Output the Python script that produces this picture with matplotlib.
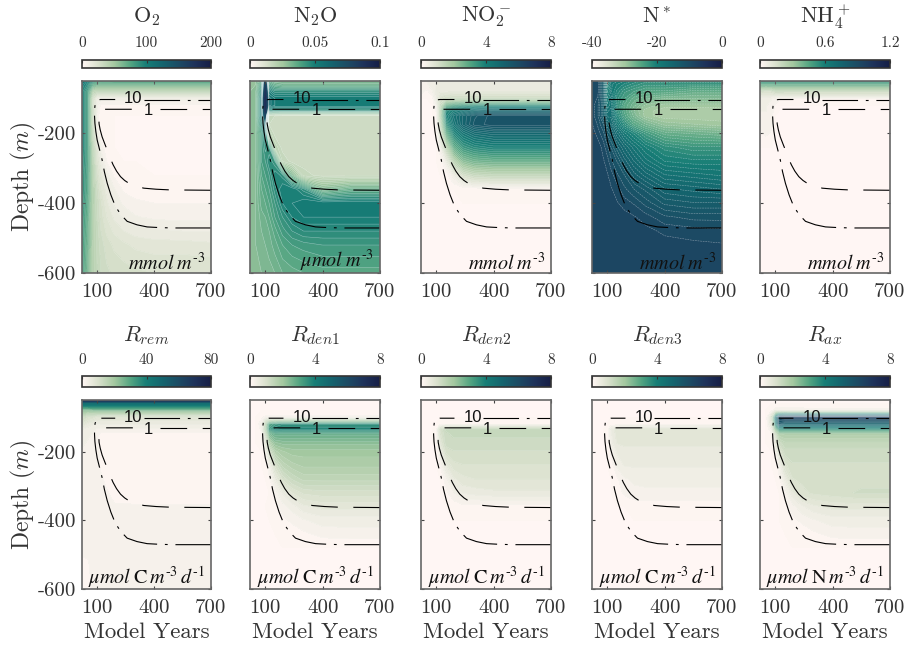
import numpy as np
import matplotlib
matplotlib.use('Agg')
import matplotlib.pyplot as plt
from matplotlib.colors import LinearSegmentedColormap, Normalize
from matplotlib.cm import ScalarMappable

plt.rcParams['font.family'] = ['cmr10', 'DejaVu Serif']
plt.rcParams['mathtext.fontset'] = 'cm'
plt.rcParams['axes.unicode_minus'] = False
plt.rcParams['axes.formatter.use_mathtext'] = True

# model years (columns) and depths (rows) of the tables below
years = [20, 50, 80, 100, 120, 150, 190, 240, 300, 400, 550, 700]
depths = [-50, -60, -80, -100, -120, -135, -150, -175, -200, -240, -280, -320, -360, -400, -440, -480, -520, -600]

o2 = [
    [105, 100, 85, 80, 80, 78, 75, 75, 75, 75, 75, 75],
    [100, 90, 68, 65, 65, 65, 65, 65, 65, 65, 65, 65],
    [95, 78, 38, 35, 35, 35, 35, 35, 35, 35, 35, 35],
    [95, 78, 22, 10, 10, 10, 10, 10, 10, 10, 10, 10],
    [95, 78, 22, 8, 3, 2.5, 2.5, 2.5, 2.5, 2.5, 2.5, 2.5],
    [95, 78, 25, 8, 1.5, .9, .8, .8, .8, .8, .8, .8],
    [95, 78, 25, 6, 1, .3, 0, 0, 0, 0, 0, 0],
    [95, 78, 26, 7, .7, .1, 0, 0, 0, 0, 0, 0],
    [95, 78, 30, 11, 1.2, .2, 0, 0, 0, 0, 0, 0],
    [95, 78, 35, 18, 7, .6, 0, 0, 0, 0, 0, 0],
    [92, 78, 38, 22, 12, 4, .7, 0, 0, 0, 0, 0],
    [90, 76, 40, 26, 17, 10, 3, .6, .2, 0, 0, 0],
    [90, 75, 42, 30, 21, 14, 8.5, 3, 1.7, .9, 1, 1],
    [88, 72, 42, 32, 25, 17, 11, 7, 5, 4, 4, 4],
    [85, 70, 42, 33, 26, 20, 15, 11, 8.5, 7, 6.5, 6.5],
    [84, 68, 42, 34, 28, 23, 19, 16, 14, 13, 12, 12],
    [82, 66, 42, 35, 30, 26, 23, 21, 19, 18, 18, 17],
    [80, 62, 42, 36, 32, 29, 27, 26, 25, 24, 24, 24],
]
n2o = [
    [.028, .028, .035, .075, .035, .03, .03, .03, .03, .03, .03, .03],
    [.028, .028, .04, .08, .04, .035, .033, .033, .033, .033, .033, .033],
    [.028, .03, .045, .085, .05, .045, .045, .045, .045, .045, .045, .045],
    [.028, .03, .05, .09, .055, .052, .052, .052, .052, .052, .052, .052],
    [.028, .03, .05, .09, .055, .052, .052, .052, .052, .052, .052, .052],
    [.028, .03, .05, .085, .045, .043, .043, .043, .043, .043, .043, .043],
    [.028, .03, .05, .075, .017, .016, .015, .015, .015, .015, .015, .015],
    [.028, .03, .045, .06, .016, .015, .015, .015, .015, .015, .015, .015],
    [.028, .03, .04, .05, .02, .015, .015, .015, .015, .015, .015, .015],
    [.028, .03, .04, .045, .042, .02, .015, .015, .015, .015, .015, .015],
    [.028, .03, .04, .042, .046, .042, .018, .015, .015, .015, .015, .015],
    [.028, .03, .038, .04, .042, .048, .045, .03, .017, .015, .015, .015],
    [.028, .03, .036, .038, .04, .045, .05, .05, .045, .03, .035, .035],
    [.028, .03, .035, .036, .038, .042, .048, .05, .052, .052, .052, .052],
    [.028, .03, .033, .034, .036, .04, .044, .048, .05, .05, .05, .05],
    [.028, .03, .032, .033, .034, .037, .041, .044, .046, .046, .046, .046],
    [.028, .03, .031, .032, .033, .035, .038, .04, .041, .042, .042, .042],
    [.028, .03, .03, .03, .031, .032, .034, .035, .036, .037, .037, .037],
]
no2 = [
    [.3, .3, .4, .5, .5, .5, .5, .5, .5, .5, .5, .5],
    [.3, .3, .4, .5, .5, .5, .5, .5, .5, .5, .5, .5],
    [.25, .1, .3, .5, .6, .6, .6, .6, .6, .6, .6, .6],
    [0, 0, .1, .5, .9, 1.1, 1.2, 1.2, 1.2, 1.2, 1.2, 1.2],
    [0, 0, 0, .3, 1.2, 2.6, 3, 3.2, 3.4, 3.5, 3.5, 3.5],
    [0, 0, 0, .2, 1.5, 3.6, 4, 4.3, 4.6, 4.8, 4.8, 4.8],
    [0, 0, 0, .1, 1.5, 3.8, 4.5, 5, 5.4, 5.7, 5.7, 5.7],
    [0, 0, 0, .05, 1.2, 3.3, 4.3, 5, 5.5, 5.7, 5.7, 5.7],
    [0, 0, 0, 0, .8, 2.6, 3.7, 4.3, 4.7, 4.9, 4.9, 4.9],
    [0, 0, 0, 0, .3, 1.4, 2.7, 3.4, 3.7, 3.9, 3.9, 3.9],
    [0, 0, 0, 0, .05, .4, 1.5, 2.3, 2.6, 2.7, 2.7, 2.7],
    [0, 0, 0, 0, 0, .05, .4, 1, 1.3, 1.4, 1.4, 1.4],
    [0, 0, 0, 0, 0, 0, 0, .02, .05, .05, .05, .05],
    [0, 0, 0, 0, 0, 0, 0, 0, 0, 0, 0, 0],
    [0, 0, 0, 0, 0, 0, 0, 0, 0, 0, 0, 0],
    [0, 0, 0, 0, 0, 0, 0, 0, 0, 0, 0, 0],
    [0, 0, 0, 0, 0, 0, 0, 0, 0, 0, 0, 0],
    [0, 0, 0, 0, 0, 0, 0, 0, 0, 0, 0, 0],
]
nstar = [
    [-10, -10, -14, -22, -18, -19, -20, -21, -22, -22, -22, -22],
    [-10, -10, -14, -22, -19, -20, -21, -22, -23, -23, -23, -23],
    [-10, -10, -14, -21, -19, -21, -23, -24, -25, -25, -26, -26],
    [-10, -10.5, -14, -20, -18, -22, -24, -26, -27, -28, -28, -28],
    [-10, -11, -14, -19, -18, -22, -25, -27, -29, -30, -30, -30],
    [-10, -11, -14, -18, -17, -22, -25, -28, -30, -31, -31, -31],
    [-10, -11, -14, -17, -17, -21, -24.5, -27.5, -30, -31, -31, -31],
    [-9.5, -10.5, -12, -15, -16, -19, -22, -25, -27, -29, -29.5, -30],
    [-9, -10, -11, -13, -14, -16.5, -19, -21, -23.5, -26, -26.5, -27],
    [-9, -9, -10, -11, -12, -14, -16, -18, -20, -22, -23, -23],
    [-9, -9, -9.5, -10, -11, -12, -14, -16, -18, -20, -20.5, -20.5],
    [-9, -9, -9, -9.5, -10, -11, -12, -14, -15.5, -17.5, -18, -18.5],
    [-9, -9, -9, -9, -9.5, -10, -11, -12, -13, -15, -15.5, -16],
    [-9, -9, -9, -9, -9, -9.5, -10, -10.5, -11.5, -13, -13.5, -13.5],
    [-9, -9, -9, -9, -9, -9, -9.2, -9.5, -10, -11, -11.5, -11.5],
    [-9, -9, -9, -9, -9, -9, -9, -9, -9.3, -9.8, -10, -10.2],
    [-9, -9, -9, -9, -9, -9, -9, -9, -9, -9.2, -9.4, -9.5],
    [-9, -9, -9, -9, -9, -9, -9, -9, -9, -9, -9, -9],
]
nh4 = [
    [.55, .55, .55, .55, .55, .55, .55, .55, .55, .55, .55, .55],
    [.42, .42, .42, .42, .42, .42, .42, .42, .42, .42, .42, .42],
    [.16, .14, .15, .18, .18, .18, .18, .18, .18, .18, .18, .18],
    [.06, .06, .05, .04, .03, .02, .02, .02, .02, .02, .02, .02],
    [.05, .05, .04, .02, 0, 0, 0, 0, 0, 0, 0, 0],
    [.05, .05, .04, .01, 0, 0, 0, 0, 0, 0, 0, 0],
    [.04, .04, .03, 0, 0, 0, 0, 0, 0, 0, 0, 0],
    [.03, .03, .03, 0, 0, 0, 0, 0, 0, 0, 0, 0],
    [.02, .03, .02, 0, 0, 0, 0, 0, 0, 0, 0, 0],
    [0, 0, 0, 0, 0, 0, 0, 0, 0, 0, 0, 0],
    [0, 0, 0, 0, 0, 0, 0, 0, 0, 0, 0, 0],
    [0, 0, 0, 0, 0, 0, 0, 0, 0, 0, 0, 0],
    [0, 0, 0, 0, 0, 0, 0, 0, 0, 0, 0, 0],
    [0, 0, 0, 0, 0, 0, 0, 0, 0, 0, 0, 0],
    [0, 0, 0, 0, 0, 0, 0, 0, 0, 0, 0, 0],
    [0, 0, 0, 0, 0, 0, 0, 0, 0, 0, 0, 0],
    [0, 0, 0, 0, 0, 0, 0, 0, 0, 0, 0, 0],
    [0, 0, 0, 0, 0, 0, 0, 0, 0, 0, 0, 0],
]
rrem = [
    [80, 80, 80, 80, 80, 80, 80, 80, 80, 80, 80, 80],
    [46, 46, 46, 46, 46, 46, 46, 46, 46, 46, 46, 46],
    [22, 22, 23, 23, 23, 23, 23, 23, 23, 23, 23, 23],
    [12, 10, 9, 8, 8, 8, 8, 8, 8, 8, 8, 8],
    [8, 6, 5, 4, 5, 5, 5, 5, 5, 5, 5, 5],
    [5, 4, 3.5, 3, 3, 3, 3, 3, 3, 3, 3, 3],
    [4, 3.5, 3, 2, 1, 1, 1, 1, 1, 1, 1, 1],
    [3.5, 3, 2.5, 2, 1, 1, 1, 1, 1, 1, 1, 1],
    [3, 3, 2.5, 2.2, 1, 1, 1, 1, 1, 1, 1, 1],
    [3, 3, 2.5, 2.2, 1.2, 1, 1, 1, 1, 1, 1, 1],
    [2.5, 2.5, 2.5, 2.2, 2, 1, 1, 1, 1, 1, 1, 1],
    [2.2, 2.2, 2.2, 2.2, 2, 1.8, 1, 1, 1, 1, 1, 1],
    [2, 2, 2, 2, 2, 2, 1.8, 1.8, 1.7, 1.7, 1.7, 1.7],
    [2, 2, 2, 2, 2, 2, 2, 2, 2, 2, 2, 2],
    [2, 2, 2, 2, 2, 2, 2, 2, 2, 2, 2, 2],
    [2, 2, 2, 2, 2, 2, 2, 2, 2, 2, 2, 2],
    [1.4, 1.5, 2, 2, 2, 2, 2, 2, 2, 2, 2, 2],
    [1.2, 1.2, 1.8, 2, 2, 2, 2, 2, 2, 2, 2, 2],
]
rden1 = [
    [0, 0, 0, 0, 0, 0, 0, 0, 0, 0, 0, 0],
    [0, 0, 0, 0, 0, 0, 0, 0, 0, 0, 0, 0],
    [0, 0, 0, 0, 0, 0, 0, 0, 0, 0, 0, 0],
    [0, 0, .1, .2, .2, .2, .2, .2, .2, .2, .2, .2],
    [0, 0, .3, 1.5, 3, 3.3, 3.5, 3.5, 3.5, 3.5, 3.5, 3.5],
    [0, 0, .2, 1.6, 3.3, 3.7, 3.8, 3.8, 3.8, 3.8, 3.8, 3.8],
    [0, 0, .1, 1.1, 2.4, 2.8, 2.8, 2.8, 2.8, 2.8, 2.8, 2.8],
    [0, 0, .05, .6, 1.6, 2.2, 2.3, 2.3, 2.3, 2.3, 2.3, 2.3],
    [0, 0, 0, .2, 1, 1.7, 1.9, 2, 2, 2, 2, 2],
    [0, 0, 0, .03, .3, 1, 1.5, 1.7, 1.8, 1.8, 1.8, 1.8],
    [0, 0, 0, 0, .1, .5, 1, 1.3, 1.5, 1.5, 1.5, 1.5],
    [0, 0, 0, 0, 0, .2, .5, .8, 1, 1.05, 1.05, 1.05],
    [0, 0, 0, 0, .02, .05, .25, .4, .6, .7, .7, .7],
    [0, 0, 0, 0, 0, .02, .1, .2, .3, .4, .4, .4],
    [0, 0, 0, 0, 0, 0, .02, .05, .12, .22, .25, .25],
    [0, 0, 0, 0, 0, 0, 0, 0, 0, 0, 0, 0],
    [0, 0, 0, 0, 0, 0, 0, 0, 0, 0, 0, 0],
    [0, 0, 0, 0, 0, 0, 0, 0, 0, 0, 0, 0],
]
rden2 = [
    [0, 0, 0, 0, 0, 0, 0, 0, 0, 0, 0, 0],
    [0, 0, 0, 0, 0, 0, 0, 0, 0, 0, 0, 0],
    [0, 0, 0, 0, 0, 0, 0, 0, 0, 0, 0, 0],
    [0, 0, 0, 0, 0, 0, 0, 0, 0, 0, 0, 0],
    [0, 0, 0, 0, .1, .1, .1, .1, .1, .1, .1, .1],
    [0, 0, 0, .1, 1, 1.3, 1.36, 1.36, 1.36, 1.36, 1.36, 1.36],
    [0, 0, 0, .1, .9, 1.25, 1.3, 1.3, 1.3, 1.3, 1.3, 1.3],
    [0, 0, 0, .05, .7, 1.2, 1.25, 1.25, 1.25, 1.25, 1.25, 1.25],
    [0, 0, 0, 0, .4, 1, 1.1, 1.1, 1.1, 1.1, 1.1, 1.1],
    [0, 0, 0, 0, .15, .6, .9, .95, .95, .95, .95, .95],
    [0, 0, 0, 0, 0, .25, .6, .75, .8, .8, .8, .8],
    [0, 0, 0, 0, 0, .1, .3, .5, .55, .6, .6, .6],
    [0, 0, 0, 0, 0, 0, .05, .1, .1, .1, .1, .1],
    [0, 0, 0, 0, 0, 0, 0, 0, 0, 0, 0, 0],
    [0, 0, 0, 0, 0, 0, 0, 0, 0, 0, 0, 0],
    [0, 0, 0, 0, 0, 0, 0, 0, 0, 0, 0, 0],
    [0, 0, 0, 0, 0, 0, 0, 0, 0, 0, 0, 0],
    [0, 0, 0, 0, 0, 0, 0, 0, 0, 0, 0, 0],
]
rden3 = [
    [0, 0, 0, 0, 0, 0, 0, 0, 0, 0, 0, 0],
    [0, 0, 0, 0, 0, 0, 0, 0, 0, 0, 0, 0],
    [0, 0, 0, 0, 0, 0, 0, 0, 0, 0, 0, 0],
    [0, 0, 0, 0, 0, 0, 0, 0, 0, 0, 0, 0],
    [0, 0, 0, 0, .05, .05, .05, .05, .05, .05, .05, .05],
    [0, 0, 0, .05, .5, .75, .8, .8, .8, .8, .8, .8],
    [0, 0, 0, .05, .45, .7, .75, .75, .75, .75, .75, .75],
    [0, 0, 0, 0, .4, .65, .7, .7, .7, .7, .7, .7],
    [0, 0, 0, 0, .2, .5, .55, .55, .55, .55, .55, .55],
    [0, 0, 0, 0, .05, .35, .5, .5, .5, .5, .5, .5],
    [0, 0, 0, 0, 0, .12, .3, .35, .35, .35, .35, .35],
    [0, 0, 0, 0, 0, .05, .2, .28, .3, .3, .3, .3],
    [0, 0, 0, 0, 0, 0, 0, .05, .05, .05, .05, .05],
    [0, 0, 0, 0, 0, 0, 0, 0, 0, 0, 0, 0],
    [0, 0, 0, 0, 0, 0, 0, 0, 0, 0, 0, 0],
    [0, 0, 0, 0, 0, 0, 0, 0, 0, 0, 0, 0],
    [0, 0, 0, 0, 0, 0, 0, 0, 0, 0, 0, 0],
    [0, 0, 0, 0, 0, 0, 0, 0, 0, 0, 0, 0],
]
rax = [
    [0, 0, 0, 0, 0, 0, 0, 0, 0, 0, 0, 0],
    [0, 0, 0, 0, 0, 0, 0, 0, 0, 0, 0, 0],
    [0, 0, .1, .25, .3, .3, .25, .25, .2, .2, .2, .2],
    [0, 0, .8, 4, 6, 6.5, 6.5, 6.5, 6.5, 6.5, 6.5, 6.5],
    [0, 0, .6, 3.5, 5.5, 5, 5, 5, 5, 5, 5, 5],
    [0, 0, .3, 2, 3.3, 3.3, 3.3, 3.3, 3.3, 3.3, 3.3, 3.3],
    [0, 0, .1, 1, 1.7, 1.8, 1.8, 1.8, 1.8, 1.8, 1.8, 1.8],
    [0, 0, .05, .5, 1.2, 1.4, 1.4, 1.4, 1.4, 1.4, 1.4, 1.4],
    [0, 0, 0, .2, .8, 1.2, 1.2, 1.2, 1.2, 1.2, 1.2, 1.2],
    [0, 0, 0, .03, .3, .9, 1.1, 1.1, 1.1, 1.1, 1.1, 1.1],
    [0, 0, 0, 0, .1, .5, .95, 1, 1.03, 1.05, 1.05, 1.05],
    [0, 0, 0, 0, 0, .2, .6, .9, 1, 1.05, 1.15, 1.15],
    [0, 0, 0, 0, 0, .05, .25, .45, .6, .7, .7, .7],
    [0, 0, 0, 0, 0, .02, .1, .2, .3, .4, .4, .4],
    [0, 0, 0, 0, 0, 0, .02, .05, .12, .22, .25, .25],
    [0, 0, 0, 0, 0, 0, 0, 0, 0, 0, 0, 0],
    [0, 0, 0, 0, 0, 0, 0, 0, 0, 0, 0, 0],
    [0, 0, 0, 0, 0, 0, 0, 0, 0, 0, 0, 0],
]

# O2 isolines, from the deep end round to the top, then past the label
line10_years = [700, 600, 503, 430, 363, 310, 258, 225, 196, 172, 153, 138, 126, 112, 100, 93, 88, 86, 86, 89, 96, 105, 118, 195]
line10_depth = [-471, -471, -471, -470, -468, -462, -452, -433, -409, -376, -343, -310, -276, -245, -219, -195, -171, -150, -133, -118, -108, -104, -103, -103]
line10_right_years = [345, 700]
line10_right_depth = [-103, -103]
line1_years = [700, 486, 410, 346, 300, 267, 245, 223, 202, 184, 168, 153, 140, 126, 116, 110, 109, 112, 118, 126, 140, 153, 325]
line1_depth = [-363, -362, -360, -357, -351, -343, -335, -324, -308, -290, -270, -248, -230, -210, -190, -173, -160, -148, -138, -133, -131, -131, -131]
line1_right_years = [430, 700]
line1_right_depth = [-131, -131]

fields = [o2, n2o, no2, nstar, nh4, rrem, rden1, rden2, rden3, rax]
titles = [r'$\mathrm{O_2}$', r'$\mathrm{N_2O}$', r'$\mathrm{NO_2^-}$', r'N$^*$', r'$\mathrm{NH_4^+}$',
          r'$R_{rem}$', r'$R_{den1}$', r'$R_{den2}$', r'$R_{den3}$', r'$R_{ax}$']
vmins = [0, 0, 0, -40, 0, 0, 0, 0, 0, 0]
vmaxs = [200, 0.1, 8, 0, 1.2, 80, 8, 8, 8, 8]
cbar_labels = [['0', '100', '200'], ['0', '0.05', '0.1'], ['0', '4', '8'], ['-40', '-20', '0'], ['0', '0.6', '1.2'],
               ['0', '40', '80'], ['0', '4', '8'], ['0', '4', '8'], ['0', '4', '8'], ['0', '4', '8']]
# how strong the pale contour lines show, and up to which part of the colour range
line_alpha = [0.28, 0.5, 0.35, 0.5, 0.28, 0.28, 0.35, 0.28, 0.28, 0.28]
line_top = [1, 0.6, 1, 1, 1, 0.3, 1, 1, 1, 1]
m3 = r'\mathit{m}^{\text{-}\mathit{3}}'
d1 = r'\mathit{d}^{\text{-}\mathit{1}}'
units = ['$\\mathit{mmol}\\;' + m3 + '$', '$\\mu\\mathit{mol}\\;' + m3 + '$', '$\\mathit{mmol}\\;' + m3 + '$',
         '$\\mathit{mmol}\\;' + m3 + '$', '$\\mathit{mmol}\\;' + m3 + '$',
         '$\\mu\\mathit{mol}\\;\\mathrm{C}\\,' + m3 + '\\,' + d1 + '$',
         '$\\mu\\mathit{mol}\\;\\mathrm{C}\\,' + m3 + '\\,' + d1 + '$',
         '$\\mu\\mathit{mol}\\;\\mathrm{C}\\,' + m3 + '\\,' + d1 + '$',
         '$\\mu\\mathit{mol}\\;\\mathrm{C}\\,' + m3 + '\\,' + d1 + '$',
         '$\\mu\\mathit{mol}\\;\\mathrm{N}\\,' + m3 + '\\,' + d1 + '$']
year_ticks = [100, 400, 700]
depth_ticks = [-200, -400, -600]
depth_labels = ['-200', '-400', '-600']

# tempo-like colour ramp
ramp = [(255, 246, 244), (216, 224, 204), (164, 200, 160), (85, 165, 130), (22, 125, 118),
        (20, 100, 110), (28, 75, 100), (30, 50, 90), (22, 30, 70)]
cmap = LinearSegmentedColormap.from_list('tempo_like', [tuple(c / 255 for c in rgb) for rgb in ramp], N=256)

W, H = 909, 646
fig = plt.figure(figsize=(W / 100, H / 100), dpi=100)

# panel positions in pixels: left, right
col_px = [(82, 211), (250, 380), (421, 551), (592, 722), (760, 890)]
row_px = [(81, 273), (400, 589)]
cbar_px = [(60, 68), (376, 387)]
title_y = [17, 336]
cbar_pad = [7.3, 6.6]


def px_axes(x0, x1, y0, y1):
    return fig.add_axes([x0 / W, 1 - y1 / H, (x1 - x0) / W, (y1 - y0) / H])


for i in range(10):
    row, col = divmod(i, 5)
    x0, x1 = col_px[col]
    y0, y1 = row_px[row]
    ax = px_axes(x0, x1, y0, y1)
    levels = np.linspace(vmins[i], vmaxs[i], 51)
    ax.set_facecolor(cmap(0.0))
    ax.contourf(years, depths, np.array(fields[i]), levels=levels, cmap=cmap, extend='both')
    top_level = vmins[i] + line_top[i] * (vmaxs[i] - vmins[i])
    line_levels = [lv for lv in levels[1:-1] if lv <= top_level]
    ax.contour(years, depths, np.array(fields[i]), levels=line_levels, colors='white', linewidths=0.35,
               alpha=line_alpha[i])

    ax.plot(line10_years, line10_depth, color='black', lw=0.8, dashes=(32, 7, 2.5, 7))
    ax.plot(line10_right_years, line10_right_depth, color='black', lw=0.8, dashes=(32, 7, 2.5, 7))
    ax.plot(line1_years, line1_depth, color='black', lw=0.8, dashes=(24, 14))
    ax.plot(line1_right_years, line1_right_depth, color='black', lw=0.8, dashes=(24, 14))
    ax.text(290, -101, '10', family='Liberation Sans', fontsize=12, ha='center', va='center', color='#111111')
    ax.text(368, -135, '1', family='Liberation Sans', fontsize=12, ha='center', va='center', color='#111111')

    ax.set_xlim(20, 700)
    ax.set_ylim(-600, -50)
    ax.set_xticks(year_ticks)
    ax.set_xticklabels([str(y) for y in year_ticks], fontsize=15, color='#333333')
    ax.set_yticks(depth_ticks)
    if col == 0:
        ax.set_yticklabels(depth_labels, fontsize=15, color='#333333')
        ax.set_ylabel(r'Depth ($m$)', fontsize=17, color='#333333', labelpad=0)
    else:
        ax.set_yticklabels([])
    ax.tick_params(direction='in', top=True, right=True, length=2, width=0.8, color='#444444')
    ax.tick_params(axis='x', pad=7)
    ax.tick_params(axis='y', pad=4)
    for side in ax.spines.values():
        side.set_linewidth(1.2)
        side.set_color('#666666')
    if row == 1:
        ax.set_xlabel('Model Years', fontsize=16.5, color='#333333', labelpad=4.5)
    ax.text(0.955, -0.005, units[i], transform=ax.transAxes, ha='right', va='bottom', fontsize=14.5,
            math_fontfamily='stix', color='#111111')

    # colorbar above the panel
    cy0, cy1 = cbar_px[row]
    cax = px_axes(x0, x1, cy0, cy1)
    sm = ScalarMappable(norm=Normalize(vmins[i], vmaxs[i]), cmap=cmap)
    cb = fig.colorbar(sm, cax=cax, orientation='horizontal',
                      ticks=[vmins[i], (vmins[i] + vmaxs[i]) / 2, vmaxs[i]])
    cb.ax.xaxis.set_ticks_position('top')
    cb.ax.set_xticklabels(cbar_labels[i], fontsize=11, color='#333333')
    cb.ax.tick_params(direction='in', length=2, width=0.8, pad=cbar_pad[row], color='#333333')
    cb.outline.set_linewidth(1.2)
    cb.outline.set_edgecolor('#333333')

    fig.text((x0 + x1) / 2 / W, 1 - title_y[row] / H, titles[i], fontsize=16, ha='center', va='center', color='#333333')

fig.savefig('out.png', dpi=100)
